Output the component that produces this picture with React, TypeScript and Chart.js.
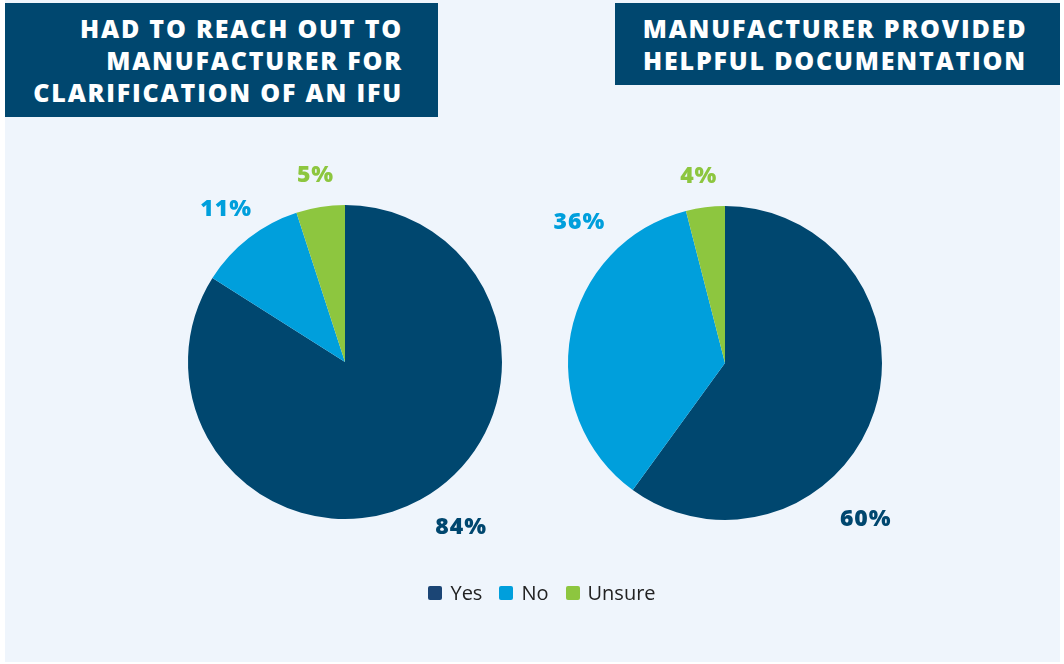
import React, { useEffect, useRef } from "react";
import { Chart, registerables } from "chart.js";

Chart.register(...registerables);

const categories = ["Yes", "No", "Unsure"];
const leftTitle = ["HAD TO REACH OUT TO", "MANUFACTURER FOR", "CLARIFICATION OF AN IFU"];
const rightTitle = ["MANUFACTURER PROVIDED", "HELPFUL DOCUMENTATION"];
const leftValues = [84, 11, 5];
const rightValues = [60, 36, 4];
const colors = ["#00476f", "#009fdc", "#8dc63f"];
const legendColors = ["#1b4575", "#009fdc", "#8dc63f"];
// label anchor angles (degrees clockwise from top) for each slice label
const leftLabelAngles = [145, 322, 351];
const rightLabelAngles = [138, 314, 352];

const FONT = "'Open Sans', 'DejaVu Sans', sans-serif";

const labelPlugin = {
  id: "outLabels",
  afterDatasetsDraw(chart: any) {
    const opts = chart.options.plugins.outLabels;
    const meta = chart.getDatasetMeta(0);
    const ds = chart.data.datasets[0];
    const ctx = chart.ctx;
    ctx.save();
    ctx.font = "800 23px " + FONT;
    try {
      (ctx as any).letterSpacing = "1px";
    } catch (e) {}
    ctx.textAlign = "center";
    ctx.textBaseline = "middle";
    meta.data.forEach((arc: any, i: number) => {
      const r = arc.outerRadius * opts.dist[i];
      const a = ((opts.angles[i] - 90) * Math.PI) / 180;
      const x = arc.x + Math.cos(a) * r;
      const y = arc.y + Math.sin(a) * r;
      ctx.fillStyle = colors[i];
      ctx.fillText(ds.data[i] + "%", x, y);
    });
    ctx.restore();
  },
};

function Pie({ values, angles, dist, style }: any) {
  const ref = useRef<HTMLCanvasElement>(null);
  useEffect(() => {
    const chart = new Chart(ref.current as HTMLCanvasElement, {
      type: "pie",
      data: {
        labels: categories,
        datasets: [{ data: values, backgroundColor: colors, borderWidth: 0 }],
      },
      options: {
        responsive: false,
        animation: false,
        layout: { padding: 70 },
        plugins: {
          legend: { display: false },
          tooltip: { enabled: false },
          outLabels: { angles, dist },
        } as any,
      },
      plugins: [labelPlugin],
    });
    return () => chart.destroy();
  }, []);
  return <canvas ref={ref} width={454} height={454} style={{ position: "absolute", ...style }} />;
}

const titleStyle: any = {
  position: "absolute",
  top: 3,
  background: "#00476f",
  color: "#fff",
  fontFamily: FONT,
  fontWeight: 800,
  fontSize: 25,
  lineHeight: "32px",
  boxSizing: "border-box",
  paddingTop: 9,
  letterSpacing: 1.8,
  whiteSpace: "nowrap",
};

export default function App() {
  return (
    <div style={{ position: "fixed", left: 0, top: 0, width: 1064, height: 664, background: "#ffffff", overflow: "hidden" }}>
      <div style={{ position: "absolute", left: 5, top: 0, width: 1055, height: 662, background: "#eff5fc" }} />
      <div style={{ ...titleStyle, left: 5, width: 433, height: 114, textAlign: "right", paddingRight: 35 }}>
        {leftTitle.map((t) => (
          <div key={t}>{t}</div>
        ))}
      </div>
      <div style={{ ...titleStyle, left: 615, width: 445, height: 82, textAlign: "center", paddingRight: 5 }}>
        {rightTitle.map((t) => (
          <div key={t}>{t}</div>
        ))}
      </div>
      <Pie values={leftValues} angles={leftLabelAngles} dist={[1.29, 1.23, 1.2]} style={{ left: 118, top: 135 }} />
      <Pie values={rightValues} angles={rightLabelAngles} dist={[1.34, 1.29, 1.2]} style={{ left: 498, top: 136 }} />
      <div
        style={{
          position: "absolute",
          left: 0,
          width: 1084,
          top: 579,
          display: "flex",
          justifyContent: "center",
          fontFamily: FONT,
          fontSize: 20,
          color: "#222",
          lineHeight: "28px",
        }}
      >
        {categories.map((c, i) => (
          <div key={c} style={{ display: "flex", alignItems: "center", marginRight: i < 2 ? 17 : 0 }}>
            <span style={{ display: "inline-block", width: 14, height: 14, borderRadius: 2, background: legendColors[i], marginRight: 8 }} />
            <span>{c}</span>
          </div>
        ))}
      </div>
    </div>
  );
}
